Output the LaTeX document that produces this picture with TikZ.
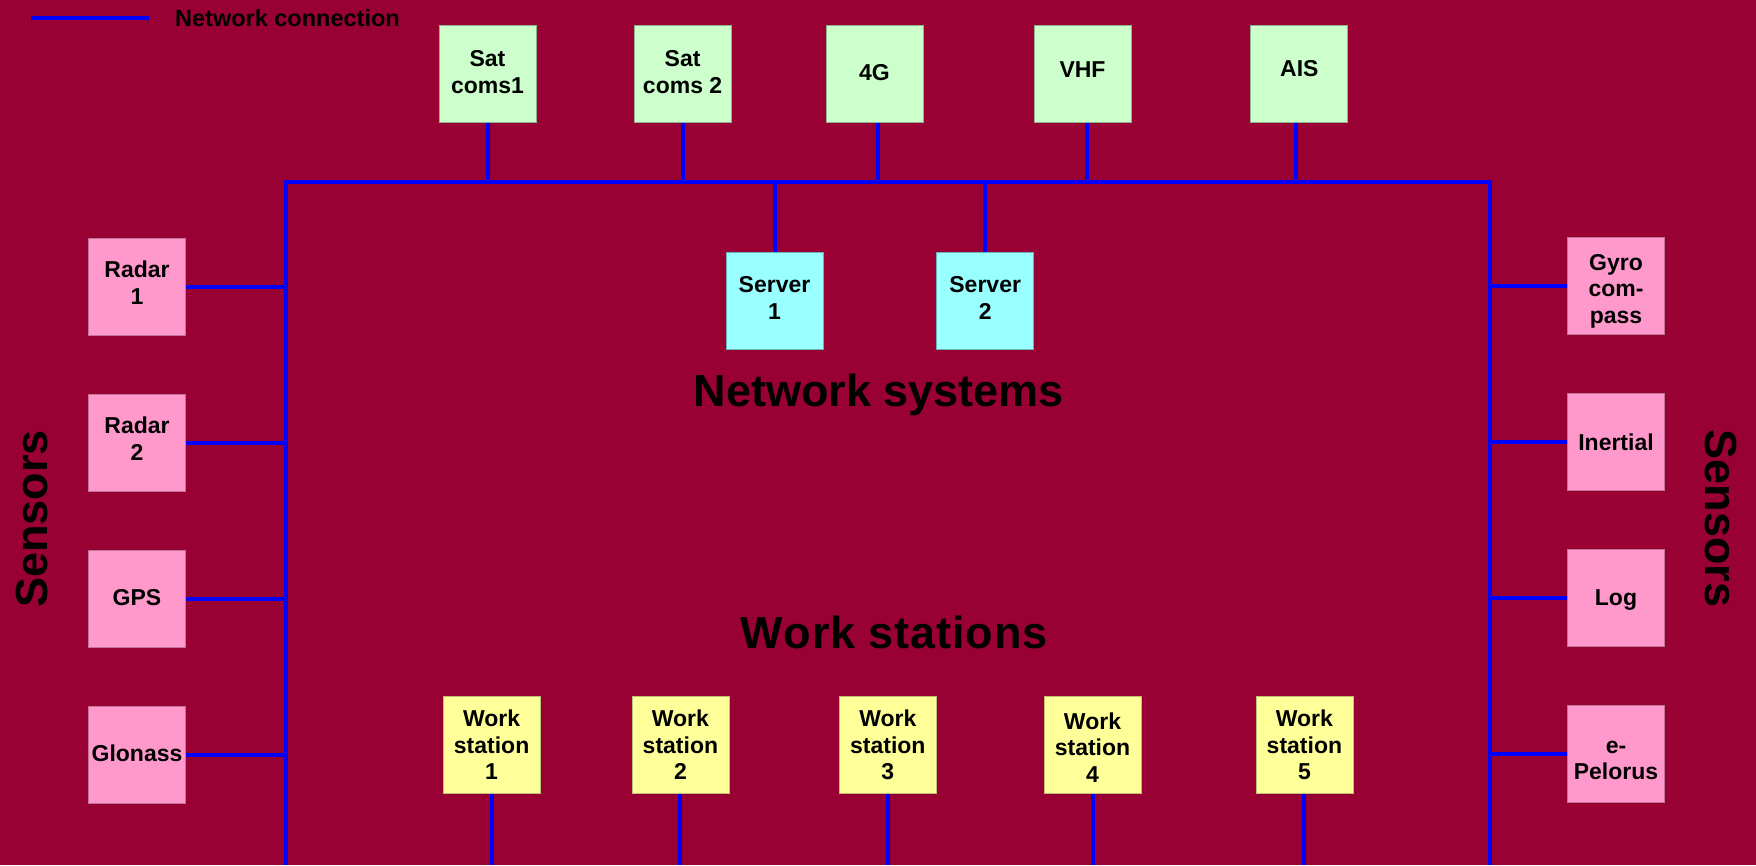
\documentclass[tikz,border=0pt]{standalone}
\usepackage{fontspec}
\setmainfont{Liberation Sans}
\definecolor{bgred}{RGB}{153,0,51}
\definecolor{netblue}{RGB}{0,0,255}
\definecolor{comfill}{RGB}{204,255,204}
\definecolor{srvfill}{RGB}{153,255,255}
\definecolor{senfill}{RGB}{255,153,204}
\definecolor{wsfill}{RGB}{255,255,153}
\begin{document}
\begin{tikzpicture}[x=1pt,y=-1pt,
  box/.style={minimum width=97pt,minimum height=97pt,inner sep=0pt,line width=0.8pt},
  boxtext/.style={inner sep=0pt,align=center,font=\fontsize{23}{26.5}\selectfont\bfseries},
  combox/.style={box,fill=comfill,draw=comfill!70!black},
  srvbox/.style={box,fill=srvfill,draw=srvfill!70!black},
  senbox/.style={box,fill=senfill,draw=senfill!75!black},
  wsbox/.style={box,fill=wsfill,draw=wsfill!75!black},
  netline/.style={draw=netblue,line width=4pt},
  biglabel/.style={inner sep=0pt,font=\fontsize{45}{50}\selectfont\bfseries},
  legendtext/.style={inner sep=0pt,font=\fontsize{23.5}{26}\selectfont\bfseries}
]
\fill[bgred] (0,0) rectangle (1756,865);
\useasboundingbox (0,0) rectangle (1756,865);

% legend
\coordinate (legA) at (31,18);
\coordinate (legB) at (149,18);
\draw[netline] (legA) -- (legB);
\node[legendtext,anchor=base west] (legT) at (175,26.5) {Network connection};

% bus
\coordinate (busBL) at (286,865);
\coordinate (busTL) at (286,182);
\coordinate (busTR) at (1490,182);
\coordinate (busBR) at (1490,865);
\draw[netline,line join=miter] (busBL) -- (busTL) -- (busTR) -- (busBR);

% communications
\node[combox] (sat1) at (487.5,74) {};
\node[combox] (sat2) at (682.6,74) {};
\node[combox] (g4) at (874.5,74) {};
\node[combox] (vhf) at (1082.5,74) {};
\node[combox] (ais) at (1299.3,74) {};
\node[boxtext] (sat1t) at ([yshift=2pt]sat1.center) {Sat\\coms1};
\node[boxtext] (sat2t) at ([yshift=2pt]sat2.center) {Sat\\coms 2};
\node[boxtext] (g4t) at ([yshift=1.5pt]g4.center) {4G};
\node[boxtext] (vhft) at ([yshift=4pt]vhf.center) {VHF};
\node[boxtext] (aist) at ([yshift=5.5pt]ais.center) {AIS};
\draw[netline] (sat1.south) -- (sat1.south |- busTL);
\draw[netline] (sat2.south) -- (sat2.south |- busTL);
\draw[netline] ([xshift=3pt]g4.south) -- ([xshift=3pt]g4.south |- busTL);
\draw[netline] ([xshift=4.5pt]vhf.south) -- ([xshift=4.5pt]vhf.south |- busTL);
\draw[netline] ([xshift=-3pt]ais.south) -- ([xshift=-3pt]ais.south |- busTL);

% servers
\node[srvbox] (srv1) at (774.5,301.3) {};
\node[srvbox] (srv2) at (985.2,301.3) {};
\node[boxtext] (srv1t) at ([yshift=3.5pt]srv1.center) {Server\\1};
\node[boxtext] (srv2t) at ([yshift=3.5pt]srv2.center) {Server\\2};
\draw[netline] (srv1.north |- busTL) -- (srv1.north);
\draw[netline] (srv2.north |- busTL) -- (srv2.north);

\node[biglabel,anchor=base] (netsys) at (879,406.5) {Network systems};
\node[biglabel,anchor=base] (wslabel) at (894,648) {W\kern1pt o\kern1pt r\kern1pt k s\kern1pt t\kern1pt a\kern1pt t\kern1pt i\kern1pt o\kern1pt n\kern1pt s};

% left sensors
\node[senbox] (radar1) at (137,286.5) {};
\node[senbox] (radar2) at (137,442.5) {};
\node[senbox] (gps) at (137,599) {};
\node[senbox] (glonass) at (137,754.7) {};
\node[boxtext] (radar1t) at ([yshift=4pt]radar1.center) {Radar\\1};
\node[boxtext] (radar2t) at ([yshift=4pt]radar2.center) {Radar\\2};
\node[boxtext] (gpst) at ([yshift=1pt]gps.center) {GPS};
\node[boxtext] (glonasst) at ([yshift=1.3pt]glonass.center) {Glonass};
\foreach \n in {radar1,radar2,gps,glonass}
  \draw[netline] (\n.east) -- (\n.east -| busTL);

% right sensors
\node[senbox] (gyro) at (1616,286.2) {};
\node[senbox] (inertial) at (1616,442.2) {};
\node[senbox] (log) at (1616,598) {};
\node[senbox] (pelorus) at (1616,754.2) {};
\node[boxtext] (gyrot) at ([yshift=-5pt]gyro.center) {Gyro\\com-\\pass};
\node[boxtext] (inertialt) at (inertial.center) {Inertial};
\node[boxtext] (logt) at ([yshift=-2.4pt]log.center) {Log};
\node[boxtext] (pelorust) at ([yshift=-6pt]pelorus.center) {e-\\Pelorus};
\foreach \n in {gyro,inertial,log,pelorus}
  \draw[netline] (\n.west) -- (\n.west -| busTR);

\node[biglabel,rotate=90,anchor=base] (sensL) at (47.5,519) {Sensors};
\node[biglabel,rotate=-90,anchor=base] (sensR) at (1705,518.5) {Sensors};

% work stations
\node[wsbox] (ws1) at (491.6,745) {};
\node[wsbox] (ws2) at (680.4,745) {};
\node[wsbox] (ws3) at (887.8,745) {};
\node[wsbox] (ws4) at (1092.5,745) {};
\node[wsbox] (ws5) at (1304.4,745) {};
\node[boxtext] (ws1t) at (ws1.center) {Work\\station\\1};
\node[boxtext] (ws2t) at (ws2.center) {Work\\station\\2};
\node[boxtext] (ws3t) at (ws3.center) {Work\\station\\3};
\node[boxtext] (ws4t) at ([yshift=-2.3pt]ws4.center) {Work\\station\\4};
\node[boxtext] (ws5t) at (ws5.center) {Work\\station\\5};
\foreach \n in {ws1,ws2,ws3,ws4,ws5}
  \draw[netline] (\n.south) -- (\n.south |- busBL);
\end{tikzpicture}
\end{document}
